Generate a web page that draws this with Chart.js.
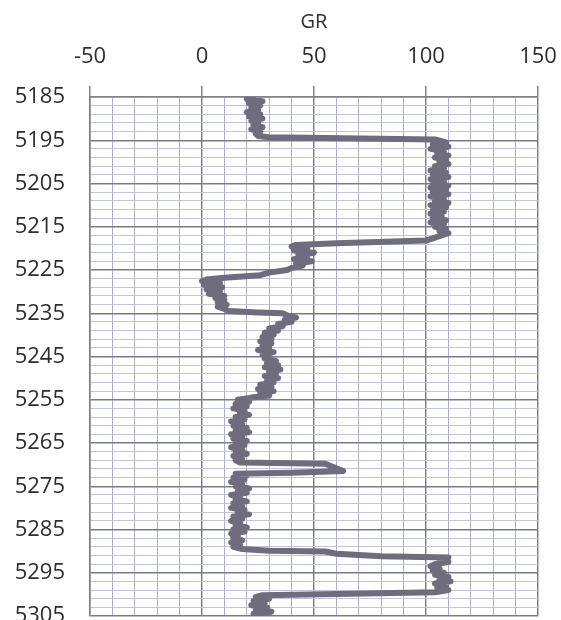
<!DOCTYPE html>
<html>
<head>
<meta charset="utf-8">
<title>GR log</title>
<script src="https://cdn.jsdelivr.net/npm/chart.js@4.4.1/dist/chart.umd.min.js"></script>
<style>
  html, body { margin: 0; padding: 0; background: #fff; overflow: hidden; }
</style>
</head>
<body>
<canvas id="grChart" width="561" height="630"></canvas>
<script>
const depth = [
  5185.0, 5185.5, 5186.0, 5186.5, 5187.0, 5187.5, 5188.0, 5188.5, 5189.0, 5189.5,
  5190.0, 5190.5, 5191.0, 5191.5, 5192.0, 5192.5, 5193.0, 5193.5, 5194.0, 5194.3,
  5194.8, 5195.5, 5196.0, 5196.5, 5197.0, 5197.5, 5198.0, 5198.5, 5199.0, 5199.5,
  5200.0, 5200.5, 5201.0, 5201.5, 5202.0, 5202.5, 5203.0, 5203.5, 5204.0, 5204.5,
  5205.0, 5205.5, 5206.0, 5206.5, 5207.0, 5207.5, 5208.0, 5208.5, 5209.0, 5209.5,
  5210.0, 5210.5, 5211.0, 5211.5, 5212.0, 5212.5, 5213.0, 5213.5, 5214.0, 5214.5,
  5215.0, 5215.5, 5216.0, 5216.5, 5217.0, 5217.5, 5218.2, 5218.8, 5219.2, 5219.6,
  5220.0, 5220.5, 5221.0, 5221.5, 5222.0, 5222.5, 5223.0, 5223.5, 5224.0, 5224.5,
  5225.0, 5225.6, 5226.2, 5226.8, 5227.2, 5227.6, 5228.0, 5228.5, 5229.0, 5229.5,
  5230.0, 5230.5, 5231.0, 5231.5, 5232.0, 5232.5, 5233.0, 5233.5, 5234.0, 5234.5,
  5234.8, 5235.0, 5235.5, 5236.0, 5236.5, 5237.0, 5237.5, 5238.0, 5238.5, 5239.0,
  5239.5, 5240.0, 5240.5, 5241.0, 5241.5, 5242.0, 5242.5, 5243.0, 5243.5, 5244.0,
  5244.5, 5245.0, 5245.5, 5246.0, 5246.5, 5247.0, 5247.5, 5248.0, 5248.5, 5249.0,
  5249.5, 5250.0, 5250.5, 5251.0, 5251.5, 5252.0, 5252.5, 5253.0, 5253.5, 5254.0,
  5254.5, 5255.0, 5255.5, 5256.0, 5256.5, 5257.0, 5257.5, 5258.0, 5258.5, 5259.0,
  5259.5, 5260.0, 5260.5, 5261.0, 5261.5, 5262.0, 5262.5, 5263.0, 5263.5, 5264.0,
  5264.5, 5265.0, 5265.5, 5266.0, 5266.5, 5267.0, 5267.5, 5268.0, 5268.5, 5269.0,
  5269.5, 5269.8, 5271.5, 5271.9, 5272.1, 5272.5, 5273.0, 5273.5, 5274.0, 5274.5,
  5275.0, 5275.5, 5276.0, 5276.5, 5277.0, 5277.5, 5278.0, 5278.5, 5279.0, 5279.5,
  5280.0, 5280.5, 5281.0, 5281.5, 5282.0, 5282.5, 5283.0, 5283.5, 5284.0, 5284.5,
  5285.0, 5285.5, 5286.0, 5286.5, 5287.0, 5287.5, 5288.0, 5288.5, 5289.0, 5289.5,
  5289.9, 5290.1, 5290.6, 5291.2, 5291.5, 5292.0, 5292.5, 5293.0, 5293.5, 5294.0,
  5294.5, 5295.0, 5295.5, 5296.0, 5296.5, 5297.0, 5297.5, 5298.0, 5298.5, 5299.0,
  5299.5, 5299.9, 5300.2, 5300.6, 5301.0, 5301.5, 5302.0, 5302.5, 5303.0, 5303.5,
  5304.0, 5304.5, 5305.0
];

const gr = [
  24, 20, 27, 21, 26, 22, 25, 20, 26, 21,
  27, 22, 25, 23, 27, 22, 26, 24, 25, 30,
  104, 109, 103, 110, 102, 108, 105, 110, 104, 109,
  106, 110, 104, 108, 102, 109, 103, 110, 102, 108,
  103, 110, 102, 109, 103, 110, 102, 108, 104, 110,
  102, 109, 103, 108, 102, 107, 103, 109, 102, 108,
  104, 109, 106, 110, 107, 104, 100, 60, 42, 40,
  47, 41, 50, 43, 47, 41, 49, 42, 45, 40,
  38, 30, 26, 10, 2, 0, 8, 1, 9, 2,
  8, 3, 10, 6, 10, 7, 11, 7, 10, 12,
  25, 36, 38, 42, 37, 40, 34, 36, 30, 34,
  28, 32, 27, 31, 26, 31, 27, 30, 25, 32,
  27, 30, 28, 33, 29, 34, 28, 35, 30, 33,
  28, 34, 29, 32, 26, 31, 25, 32, 26, 30,
  22, 16, 21, 15, 20, 14, 19, 17, 21, 15,
  19, 13, 18, 14, 20, 15, 21, 13, 18, 14,
  20, 15, 19, 13, 18, 15, 20, 14, 18, 15,
  17, 55, 63, 40, 15, 20, 14, 19, 13, 18,
  15, 21, 16, 20, 13, 17, 15, 20, 14, 18,
  13, 19, 16, 21, 14, 18, 13, 17, 15, 20,
  14, 19, 13, 16, 14, 18, 13, 17, 14, 18,
  30, 55, 60, 80, 110, 106, 110, 104, 102, 106,
  103, 108, 104, 110, 106, 111, 104, 109, 105, 110,
  104, 60, 27, 24, 30, 23, 28, 22, 29, 24,
  31, 23, 28
];

const grTicks = [-50, 0, 50, 100, 150];
const depthTicks = [5185, 5195, 5205, 5215, 5225, 5235, 5245, 5255, 5265, 5275, 5285, 5295, 5305];

const labelFont = { family: "'Open Sans', 'DejaVu Sans', sans-serif", size: 22 };

let points = depth.map((d, i) => ({ x: gr[i], y: d }));

new Chart(document.getElementById('grChart'), {
  type: 'scatter',
  data: {
    datasets: [{
      label: 'GR',
      data: points,
      showLine: true,
      borderColor: '#6f6c7d',
      borderWidth: 6,
      pointRadius: 0,
      tension: 0,
      borderJoinStyle: 'round'
    }]
  },
  options: {
    responsive: false,
    animation: false,
    layout: { padding: { top: 0, left: 0, right: 23, bottom: 14 } },
    plugins: {
      legend: { display: false },
      tooltip: { enabled: false }
    },
    scales: {
      x: {
        type: 'linear',
        position: 'top',
        min: -50,
        max: 150,
        ticks: {
          stepSize: 10,
          autoSkip: false,
          maxRotation: 0,
          padding: 16,
          color: '#2e2e2e',
          font: labelFont,
          callback: v => grTicks.includes(v) ? String(v) : ''
        },
        grid: {
          tickLength: 11,
          color: ctx => grTicks.includes(ctx.tick.value) ? '#80808f' : '#aeb0c8',
          tickColor: ctx => grTicks.includes(ctx.tick.value) ? '#80808f' : 'rgba(0,0,0,0)',
          lineWidth: ctx => grTicks.includes(ctx.tick.value) ? 1.5 : 1
        },
        border: { color: '#80808f', width: 1.5 },
        title: {
          display: true,
          text: 'GR',
          color: '#2e2e2e',
          font: { family: "'Open Sans', 'DejaVu Sans', sans-serif", size: 20 },
          padding: { top: 10, bottom: 0 }
        },
        afterFit: scale => {
          scale.height = 97;
          scale.paddingLeft = 0;
          scale.paddingRight = 0;
        }
      },
      y: {
        type: 'linear',
        reverse: true,
        min: 5185,
        max: 5305,
        ticks: {
          stepSize: 2,
          autoSkip: false,
          padding: 25,
          color: '#2e2e2e',
          font: labelFont,
          callback: v => depthTicks.includes(v) ? String(v) : ''
        },
        grid: {
          drawTicks: false,
          color: ctx => depthTicks.includes(ctx.tick.value) ? '#7a7a8a' : '#c2c4da',
          lineWidth: ctx => depthTicks.includes(ctx.tick.value) ? 1.5 : 1
        },
        border: { color: '#80808f', width: 1.5 },
        afterFit: scale => {
          scale.width = 90;
          scale.paddingTop = 0;
          scale.paddingBottom = 0;
        }
      }
    }
  }
});
</script>
</body>
</html>
